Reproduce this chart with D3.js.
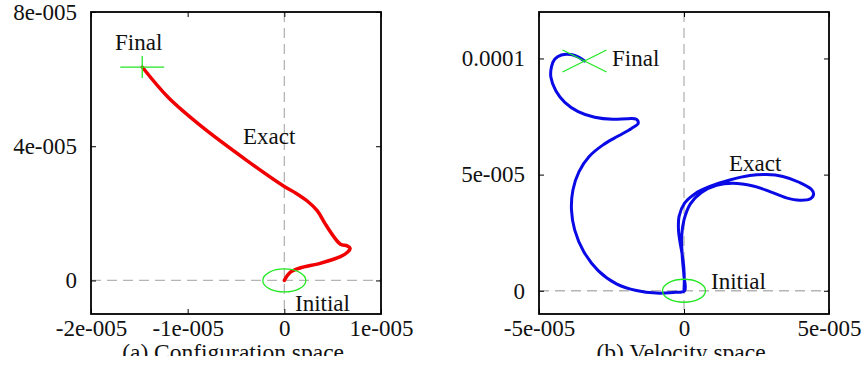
<!DOCTYPE html>
<html>
<head>
<meta charset="utf-8">
<script src="https://cdn.jsdelivr.net/npm/d3@7"></script>
<style>
  body { margin: 0; background: #fff; }
  svg { display: block; font-family: "Liberation Serif", "Times New Roman", serif; }
  .tick text { font-size: 23px; fill: #111; font-family: "Liberation Serif", serif; }
  .tick line { stroke: #000; stroke-width: 1; }
</style>
</head>
<body>
<div id="chart"></div>
<script>
// (a) configuration space trajectory, values in units of 1e-5
var configX = [0, 0.06, 0.16, 0.37, 0.58, 0.66, 0.68, 0.65, 0.58, 0.51, 0.42, 0.34, 0.24, 0.12, 0,
  -0.39, -0.87, -1.2, -1.47];
var configY = [0, 0.24, 0.37, 0.51, 0.71, 0.86, 0.96, 1.03, 1.08, 1.31, 1.70, 2.08, 2.36, 2.60, 2.80,
  3.58, 4.62, 5.45, 6.36];

// (b) velocity space trajectory, values in units of 1e-5
var velocityX = [0, 0.01, -0.01, -0.07, -0.15, -0.19, -0.17, 0.02, 0.37, 0.89, 1.58, 2.27, 2.84, 3.41,
  3.99, 4.39, 4.47, 4.36, 3.99, 3.53, 2.96, 2.38, 1.69, 1.12, 0.60, 0.22, 0, -0.08, -0.06, 0, 0.02,
  -0.38, -0.95, -1.64, -2.33, -2.96, -3.46, -3.77, -3.88, -3.83, -3.62, -3.27, -2.79, -2.27, -1.81,
  -1.58, -1.64, -1.93, -2.45, -3.08, -3.65, -4.11, -4.42, -4.59, -4.57, -4.46, -4.23, -3.89, -3.62, -3.43];
var velocityY = [0, 0.47, 1.05, 1.62, 2.19, 2.62, 3.20, 3.77, 4.17, 4.49, 4.77, 4.96, 5.00, 4.92,
  4.66, 4.37, 4.17, 3.96, 3.90, 4.00, 4.27, 4.51, 4.63, 4.54, 4.23, 3.74, 3.05, 2.34, 1.48, 0.62, 0,
  -0.07, -0.10, 0.01, 0.30, 0.87, 1.69, 2.62, 3.48, 4.34, 5.13, 5.78, 6.28, 6.66, 6.99,
  7.21, 7.38, 7.41, 7.38, 7.47, 7.71, 8.11, 8.61, 9.19, 9.64, 9.97, 10.15, 10.17, 10.05, 9.89];

// axis ranges and ticks
var configXDomain = [-2e-5, 1e-5];
var configYDomain = [-1e-5, 8e-5];
var configXTicks = [-2e-5, -1e-5, 0, 1e-5];
var configXTickLabels = ["-2e-005", "-1e-005", "0", "1e-005"];
var configYTicks = [0, 4e-5, 8e-5];
var configYTickLabels = ["0", "4e-005", "8e-005"];

var velocityXDomain = [-5e-5, 5e-5];
var velocityYDomain = [-1e-5, 1.2e-4];
var velocityXTicks = [-5e-5, 0, 5e-5];
var velocityXTickLabels = ["-5e-005", "0", "5e-005"];
var velocityYTicks = [0, 5e-5, 1e-4];
var velocityYTickLabels = ["0", "5e-005", "0.0001"];

var svgWidth = 867;
var svgHeight = 365;

var svg = d3.select("#chart")
  .append("svg")
  .attr("width", svgWidth)
  .attr("height", svgHeight);

svg.append("clipPath").attr("id", "capClip")
  .append("rect").attr("x", 0).attr("y", 0).attr("width", svgWidth).attr("height", 356);

function drawPanel(opt) {
  var g = svg.append("g");
  var x = d3.scaleLinear().domain(opt.xDomain).range([opt.left, opt.right]);
  var y = d3.scaleLinear().domain(opt.yDomain).range([opt.bottom, opt.top]);

  // zero lines
  g.append("line")
    .attr("x1", x(0)).attr("x2", x(0)).attr("y1", opt.top).attr("y2", opt.bottom)
    .attr("stroke", "#b4b4b4").attr("stroke-width", 1.3).attr("stroke-dasharray", "10,6");
  g.append("line")
    .attr("x1", opt.left).attr("x2", opt.right).attr("y1", y(0)).attr("y2", y(0))
    .attr("stroke", "#b4b4b4").attr("stroke-width", 1.3).attr("stroke-dasharray", "10,6");

  // axes, ticks pointing inwards on all four sides
  var bottomAxis = d3.axisBottom(x).tickValues(opt.xTicks)
    .tickFormat(function (d, i) { return opt.xTickLabels[i]; })
    .tickSize(-5).tickPadding(6);
  var leftAxis = d3.axisLeft(y).tickValues(opt.yTicks)
    .tickFormat(function (d, i) { return opt.yTickLabels[i]; })
    .tickSize(-5).tickPadding(14);

  g.append("g").attr("transform", "translate(0," + opt.bottom + ")").call(bottomAxis)
    .call(function (a) { a.select(".domain").remove(); });
  g.append("g").attr("transform", "translate(" + opt.left + ",0)").call(leftAxis)
    .call(function (a) { a.select(".domain").remove(); });
  g.append("g").attr("transform", "translate(0," + opt.top + ")")
    .call(d3.axisTop(x).tickValues(opt.xTicks).tickFormat("").tickSize(-5))
    .call(function (a) { a.select(".domain").remove(); });
  g.append("g").attr("transform", "translate(" + opt.right + ",0)")
    .call(d3.axisRight(y).tickValues(opt.yTicks).tickFormat("").tickSize(-5))
    .call(function (a) { a.select(".domain").remove(); });

  // trajectory
  var pts = opt.xs.map(function (v, i) { return [v * 1e-5, opt.ys[i] * 1e-5]; });
  var line = d3.line()
    .x(function (d) { return x(d[0]); })
    .y(function (d) { return y(d[1]); })
    .curve(d3.curveCatmullRom.alpha(0.5));
  g.append("path").datum(pts)
    .attr("d", line)
    .attr("fill", "none")
    .attr("stroke", opt.color)
    .attr("stroke-width", opt.width)
    .attr("stroke-linejoin", "round")
    .attr("stroke-linecap", "round");

  // initial marker (ellipse at origin)
  g.append("ellipse")
    .attr("cx", x(0)).attr("cy", y(0)).attr("rx", 21.5).attr("ry", 11.5)
    .attr("fill", "none").attr("stroke", "#22e822").attr("stroke-width", 1.3);

  // final marker
  var last = pts[pts.length - 1];
  var fx = x(last[0]), fy = y(last[1]);
  if (opt.finalMark === "plus") {
    g.append("path")
      .attr("d", "M" + (fx - 22) + "," + fy + "H" + (fx + 22) + "M" + fx + "," + (fy - 11) + "V" + (fy + 11))
      .attr("stroke", "#22e822").attr("stroke-width", 1.3).attr("fill", "none");
  } else {
    g.append("path")
      .attr("d", "M" + (fx - 22) + "," + (fy - 11) + "L" + (fx + 22) + "," + (fy + 11) +
        "M" + (fx - 22) + "," + (fy + 11) + "L" + (fx + 22) + "," + (fy - 11))
      .attr("stroke", "#22e822").attr("stroke-width", 1.3).attr("fill", "none");
  }

  // frame
  g.append("rect")
    .attr("x", opt.left).attr("y", opt.top)
    .attr("width", opt.right - opt.left).attr("height", opt.bottom - opt.top)
    .attr("fill", "none").attr("stroke", "#000").attr("stroke-width", 1.8);

  // labels
  opt.labels.forEach(function (l) {
    g.append("text").attr("x", l[1]).attr("y", l[2])
      .attr("font-size", 23).attr("fill", "#111").text(l[0]);
  });

  // caption, cut off at the bottom as in the source figure
  g.append("text")
    .attr("x", (opt.left + opt.right) / 2).attr("y", 360)
    .attr("text-anchor", "middle").attr("font-size", 23.5).attr("fill", "#111")
    .attr("clip-path", "url(#capClip)")
    .text(opt.caption);
}

drawPanel({
  left: 91, right: 381, top: 12, bottom: 314,
  xDomain: configXDomain, yDomain: configYDomain,
  xTicks: configXTicks, xTickLabels: configXTickLabels,
  yTicks: configYTicks, yTickLabels: configYTickLabels,
  xs: configX, ys: configY,
  color: "#f00000", width: 3.5, finalMark: "plus",
  labels: [["Final", 115, 50], ["Exact", 243, 144], ["Initial", 295, 311]],
  caption: "(a) Configuration space."
});

drawPanel({
  left: 539, right: 829, top: 12, bottom: 314,
  xDomain: velocityXDomain, yDomain: velocityYDomain,
  xTicks: velocityXTicks, xTickLabels: velocityXTickLabels,
  yTicks: velocityYTicks, yTickLabels: velocityYTickLabels,
  xs: velocityX, ys: velocityY,
  color: "#0a0ae6", width: 3, finalMark: "cross",
  labels: [["Final", 612, 66], ["Exact", 729, 171], ["Initial", 711, 289]],
  caption: "(b) Velocity space."
});
</script>
</body>
</html>
